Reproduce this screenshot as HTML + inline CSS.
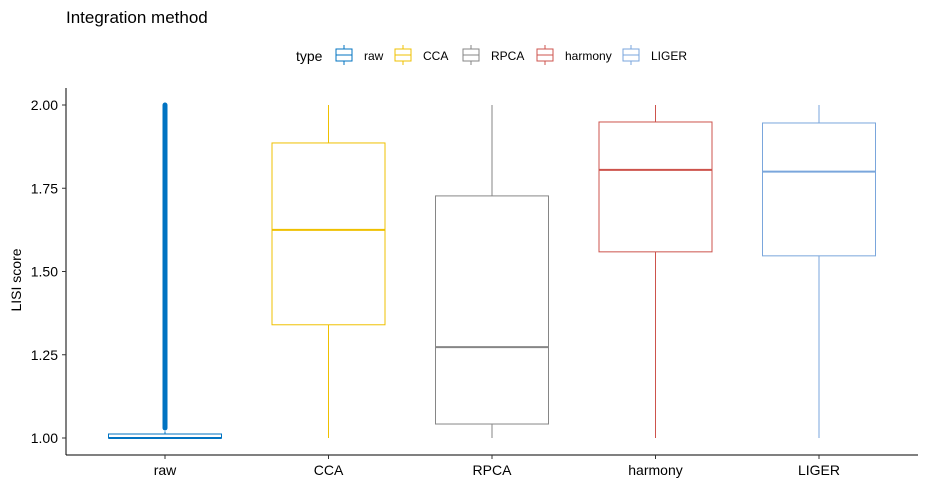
<!DOCTYPE html>
<html><head><meta charset="utf-8"><style>
body{margin:0;background:#fff;}
svg{display:block;font-family:"Liberation Sans",Arial,sans-serif;}
</style></head><body>
<svg id="chart" width="926" height="486">
<text x="66" y="23" font-size="17" fill="#000">Integration method</text>
<g id="legend"></g>
<g id="plot"></g>
<text transform="translate(21,280) rotate(-90)" text-anchor="middle" font-size="14" fill="#000">LISI score</text>
</svg>
<script>
const categories=["raw","CCA","RPCA","harmony","LIGER"];
const colors=["#0073C2","#EFC000","#868686","#CD534C","#7AA6DC"];
const wlow=[1.0,1.0,1.0,1.0,1.0];
const q1=[1.0,1.34,1.042,1.559,1.547];
const med=[1.0,1.625,1.273,1.805,1.80];
const q3=[1.012,1.886,1.727,1.949,1.946];
const whigh=[1.02,2.0,2.0,2.0,2.0];
const outlierMin=[1.03,null,null,null,null];
const outlierMax=[2.0,null,null,null,null];
const yTicks=[1.00,1.25,1.50,1.75,2.00];
const legendX=[336,395,463,537,623];

const NS="http://www.w3.org/2000/svg";
function mk(tag,attrs,parent){const e=document.createElementNS(NS,tag);for(const k in attrs)e.setAttribute(k,attrs[k]);parent.appendChild(e);return e;}
const y=v=>438-(v-1)*333;
const x=i=>165+i*163.5;
const bw=113;
const plot=document.getElementById('plot');
// axes
let ax=mk('line',{x1:66,y1:88,x2:66,y2:455,stroke:'#000','stroke-width':1},plot);


ax=mk('line',{x1:66,y1:455,x2:918,y2:455,stroke:'#000','stroke-width':1},plot);


yTicks.forEach(t=>{
  let l=mk('line',{x1:62,x2:66,y1:y(t),y2:y(t),stroke:'#333'},plot);
  
  
  let tx=mk('text',{x:58,y:y(t)+5,'text-anchor':'end','font-size':14,fill:'#000'},plot);
  tx.textContent=t.toFixed(2);
  
  
});
categories.forEach((c,i)=>{
  const cx=x(i),col=colors[i];
  let l=mk('line',{x1:cx,x2:cx,y1:455,y2:459,stroke:'#333'},plot);
  
  
  let tx=mk('text',{x:cx,y:475,'text-anchor':'middle','font-size':14,fill:'#000'},plot);
  tx.textContent=c;
  
  
  const g=mk('g',{},plot);
  
  
  mk('line',{x1:cx,x2:cx,y1:y(wlow[i]),y2:y(q1[i]),stroke:col},g);
  mk('line',{x1:cx,x2:cx,y1:y(q3[i]),y2:y(whigh[i]),stroke:col},g);
  mk('rect',{x:cx-bw/2,y:y(q3[i]),width:bw,height:Math.max(1,y(q1[i])-y(q3[i])),fill:'#fff',stroke:col},g);
  mk('line',{x1:cx-bw/2,x2:cx+bw/2,y1:y(med[i]),y2:y(med[i]),stroke:col,'stroke-width':2},g);
  if(outlierMin[i]!==null){
    const o=mk('line',{x1:cx,x2:cx,y1:y(outlierMin[i]),y2:y(outlierMax[i]),stroke:col,'stroke-width':5,'stroke-linecap':'round'},g);
    
    
  }
});
const lg=document.getElementById('legend');
let lt=mk('text',{x:296,y:61,'font-size':14,fill:'#000'},lg);
lt.textContent='type';


categories.forEach((c,i)=>{
  const g=mk('g',{},lg);
  
  
  const lx=legendX[i],col=colors[i];
  mk('line',{x1:lx+8,x2:lx+8,y1:45,y2:65,stroke:col},g);
  mk('rect',{x:lx,y:49,width:16,height:12,fill:'#fff',stroke:col},g);
  mk('line',{x1:lx,x2:lx+16,y1:55,y2:55,stroke:col},g);
  const t=mk('text',{x:lx+28,y:60,'font-size':12,fill:'#000'},g);
  t.textContent=c;
});
</script>
</body></html>
